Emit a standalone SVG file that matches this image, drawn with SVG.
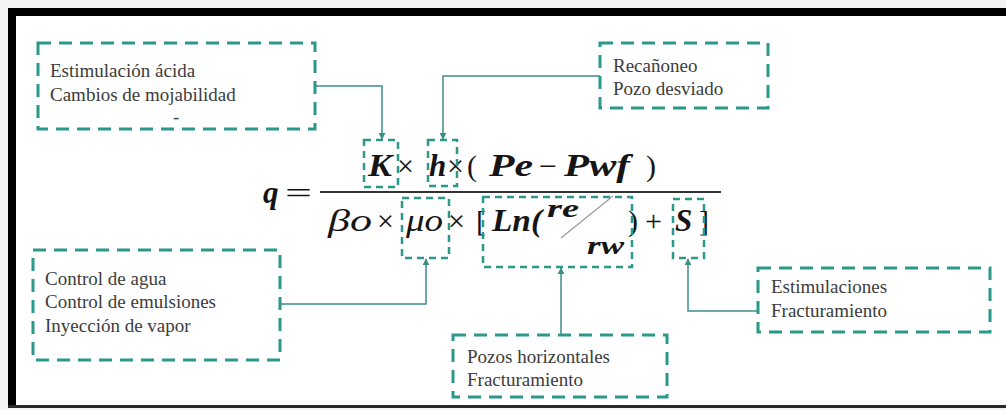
<svg xmlns="http://www.w3.org/2000/svg" width="1006" height="410" viewBox="0 0 1006 410">
<defs>
<marker id="arr" viewBox="0 0 10 10" refX="9" refY="5" markerWidth="7" markerHeight="7" orient="auto" markerUnits="userSpaceOnUse">
<path d="M0,0 L10,5 L0,10 z" fill="#3b8f89"/>
</marker>
</defs>
<style>
.big{fill:none;stroke:#2a998c;stroke-width:3;stroke-dasharray:13 8}
.sm{fill:none;stroke:#2a998c;stroke-width:2.5;stroke-dasharray:7 5}
.lbl{font-size:19px;fill:#3c3c3c}
.conn{fill:none;stroke:#3b8f89;stroke-width:1.5}
.fbi{font-weight:bold;font-style:italic;fill:#151515}
.fi{font-style:italic;fill:#151515}
.fr{fill:#151515}
</style>
<rect x="0" y="0" width="1006" height="410" fill="#f4f4f4"/>
<rect x="16" y="16" width="990" height="389" fill="#ffffff"/>
<rect x="8" y="8" width="998" height="8" fill="#000"/>
<rect x="8" y="8" width="8" height="398" fill="#000"/>
<rect x="8" y="405" width="998" height="3" fill="#2a2a2a"/>

<g id="formula" font-family="Liberation Serif, serif">
<text class="fbi" x="263" y="203" font-size="31">q</text>
<text class="fr" x="285" y="203" font-size="30" textLength="27" lengthAdjust="spacingAndGlyphs">=</text>
<line x1="320" y1="192" x2="721" y2="192" stroke="#333" stroke-width="2"/>
<text class="fbi" x="368" y="176" font-size="31" textLength="24" lengthAdjust="spacingAndGlyphs">K</text>
<text class="fr" x="397" y="176" font-size="30">×</text>
<text class="fbi" x="429" y="176" font-size="31">h</text>
<text class="fr" x="447" y="176" font-size="30">×</text>
<text class="fr" x="467" y="176" font-size="30">(</text>
<text class="fbi" x="489" y="176" font-size="31" textLength="44" lengthAdjust="spacingAndGlyphs">Pe</text>
<text class="fr" x="539" y="176" font-size="30" textLength="18" lengthAdjust="spacingAndGlyphs">−</text>
<text class="fbi" x="564" y="176" font-size="31" textLength="66" lengthAdjust="spacingAndGlyphs">Pwf</text>
<text class="fr" x="646" y="176" font-size="30">)</text>
<text class="fi" x="328" y="231" font-size="31" textLength="44" lengthAdjust="spacingAndGlyphs">βo</text>
<text class="fr" x="377" y="231" font-size="30">×</text>
<text class="fi" x="406" y="231" font-size="31" textLength="37" lengthAdjust="spacingAndGlyphs">μo</text>
<text class="fr" x="448" y="231" font-size="30">×</text>
<text class="fr" x="476" y="231" font-size="30">[</text>
<text class="fbi" x="492" y="231" font-size="31" textLength="50" lengthAdjust="spacingAndGlyphs">Ln(</text>
<text class="fbi" x="547" y="217" font-size="25" textLength="32" lengthAdjust="spacingAndGlyphs">re</text>
<line x1="613" y1="196" x2="561" y2="238" stroke="#999" stroke-width="1.2"/>
<text class="fbi" x="587" y="254" font-size="25" textLength="37" lengthAdjust="spacingAndGlyphs">rw</text>
<text class="fr" x="628" y="231" font-size="30">)</text>
<text class="fr" x="645" y="231" font-size="30">+</text>
<text class="fbi" x="675" y="231" font-size="31">S</text>
<text class="fr" x="699" y="231" font-size="30">]</text>
</g>

<g id="hl-K"><rect class="sm" x="364" y="140" width="34" height="47"/></g>
<g id="hl-h"><rect class="sm" x="428" y="140" width="29" height="46"/></g>
<g id="hl-mu"><rect class="sm" x="402" y="198" width="47" height="60"/></g>
<g id="hl-ln"><rect class="sm" x="483" y="197" width="149" height="70"/></g>
<g id="hl-S"><rect class="sm" x="673" y="199" width="31" height="59"/></g>

<g id="box-acida" font-family="Liberation Serif, serif">
<rect class="big" x="38" y="43" width="277" height="86"/>
<text class="lbl" x="50" y="77">Estimulación ácida</text>
<text class="lbl" x="50" y="101">Cambios de mojabilidad</text>
<text class="lbl" x="173" y="123" font-size="10">-</text>
</g>
<g id="box-recanoneo" font-family="Liberation Serif, serif">
<rect class="big" x="600" y="43" width="168" height="65"/>
<text class="lbl" x="613" y="72">Recañoneo</text>
<text class="lbl" x="613" y="95">Pozo desviado</text>
</g>
<g id="box-control" font-family="Liberation Serif, serif">
<rect class="big" x="33" y="250" width="247" height="110"/>
<text class="lbl" x="45" y="285">Control de agua</text>
<text class="lbl" x="45" y="308">Control de emulsiones</text>
<text class="lbl" x="45" y="332">Inyección de vapor</text>
</g>
<g id="box-pozos" font-family="Liberation Serif, serif">
<rect class="big" x="453" y="335" width="214" height="62"/>
<text class="lbl" x="467" y="363">Pozos horizontales</text>
<text class="lbl" x="467" y="386">Fracturamiento</text>
</g>
<g id="box-estim" font-family="Liberation Serif, serif">
<rect class="big" x="758" y="268" width="232" height="64"/>
<text class="lbl" x="771" y="293">Estimulaciones</text>
<text class="lbl" x="771" y="317">Fracturamiento</text>
</g>

<g id="connectors">
<path class="conn" d="M315,86 H382 V139" marker-end="url(#arr)"/>
<path class="conn" d="M600,76 H443 V139" marker-end="url(#arr)"/>
<path class="conn" d="M280,304 H426 V259" marker-end="url(#arr)"/>
<path class="conn" d="M561,335 V268" marker-end="url(#arr)"/>
<path class="conn" d="M758,311 H688 V259" marker-end="url(#arr)"/>
</g>
</svg>
